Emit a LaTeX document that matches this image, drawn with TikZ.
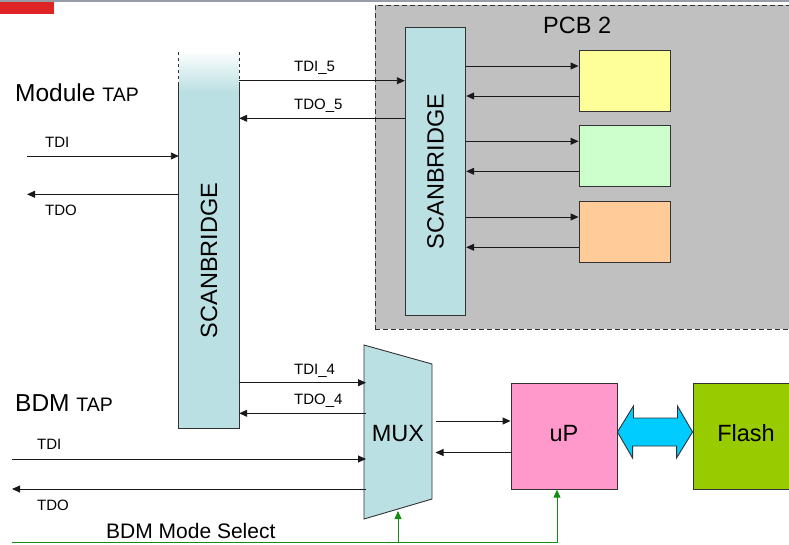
\documentclass[tikz,border=0pt]{standalone}
\usepackage{fontspec}
\setmainfont{Liberation Sans}
\usetikzlibrary{arrows.meta,calc}
\definecolor{sbfill}{RGB}{187,224,227}
\definecolor{pcbgrey}{RGB}{192,192,192}
\definecolor{byellow}{RGB}{255,255,153}
\definecolor{bgreen}{RGB}{204,255,204}
\definecolor{borange}{RGB}{255,204,153}
\definecolor{bpink}{RGB}{255,153,204}
\definecolor{bcyan}{RGB}{0,204,255}
\definecolor{bflash}{RGB}{153,204,0}
\definecolor{linec}{RGB}{25,25,25}
\definecolor{boxline}{RGB}{50,50,50}
\definecolor{selgreen}{RGB}{20,140,20}
\definecolor{topgrey}{RGB}{150,156,168}
\definecolor{redbar}{RGB}{222,36,36}
\begin{document}
\begin{tikzpicture}[x=1pt,y=-1pt,
  line/.style={draw=linec, line width=0.9pt},
  arr/.style={line, -{Triangle[length=8pt,width=7pt]}},
  garr/.style={draw=selgreen, line width=0.9pt, -{Triangle[length=8pt,width=7pt]}},
  box/.style={draw=boxline, line width=0.9pt, inner sep=0pt},
  lbl/.style={font=\fontsize{15}{18}\selectfont, inner sep=0pt, anchor=base west},
  big/.style={font=\fontsize{23.5}{28}\selectfont, inner sep=0pt},
  boxtext/.style={font=\fontsize{23.5}{28}\selectfont, text height=16.8pt, text depth=5.8pt},
]
\useasboundingbox (0,0) rectangle (789,544);
\clip (0,0) rectangle (789,544);
% top decoration
\fill[topgrey] (0,0) rectangle (789,2);
\fill[redbar] (0,2) rectangle (54,14);

% PCB 2 area
\node[draw=boxline, line width=0.9pt, dash pattern=on 5pt off 3pt, fill=pcbgrey,
      minimum width=430, minimum height=324, anchor=north west, inner sep=0pt] (pcb) at (375,5) {};
\node[big, anchor=base west] (pcbl) at (543,33.3) {PCB 2};

% left SCANBRIDGE
\shade[top color=white, bottom color=sbfill] (179,50) rectangle (239,92);
\fill[sbfill] (179,91) rectangle (239,428);
\node[minimum width=60, minimum height=343, inner sep=0pt] (sbL) at (209,256.5) {};
\draw[box] (sbL.north west) -- (sbL.south west) -- (sbL.south east) -- (sbL.north east);
\draw[box, dashed] (sbL.north west) -- ++(0,-35);
\draw[box, dashed] (sbL.north east) -- ++(0,-35);
\node[big, rotate=90] (sbLt) at (209,260.5) {SCANBRIDGE};

% right SCANBRIDGE
\node[box, fill=sbfill, minimum width=60.5, minimum height=287.5] (sbR) at (435.5,171.5) {};
\node[big, rotate=90] (sbRt) at (435.5,171.5) {SCANBRIDGE};

% PCB boxes
\node[box, fill=byellow, minimum width=91, minimum height=60.5] (b1) at (624.5,81) {};
\node[box, fill=bgreen, minimum width=91, minimum height=60.5] (b2) at (624.5,156) {};
\node[box, fill=borange, minimum width=91, minimum height=60.5] (b3) at (624.5,232) {};

\draw[arr] (sbR.east |- 0,66) -- (b1.west |- 0,66);
\draw[arr] (b1.west |- 0,96) -- (sbR.east |- 0,96);
\draw[arr] (sbR.east |- 0,141.3) -- (b2.west |- 0,141.3);
\draw[arr] (b2.west |- 0,171.3) -- (sbR.east |- 0,171.3);
\draw[arr] (sbR.east |- 0,217) -- (b3.west |- 0,217);
\draw[arr] (b3.west |- 0,247.3) -- (sbR.east |- 0,247.3);

% links between scanbridges
\draw[arr] (sbL.east |- 0,80.7) -- (sbR.west |- 0,80.7);
\draw[arr] (sbR.west |- 0,118.3) -- (sbL.east |- 0,118.3);
\node[lbl] (tdi5) at (294,71.5) {TDI\_5};
\node[lbl] (tdo5) at (294,109.7) {TDO\_5};

% Module TAP
\node[inner sep=0pt, anchor=base west] (modtap) at (15,101.7)
  {\fontsize{24.5}{28}\selectfont Module \fontsize{19.5}{22}\selectfont TAP};
\coordinate (modL) at (27,175);
\draw[arr] (modL |- 0,156) -- (sbL.west |- 0,156);
\draw[arr] (sbL.west |- 0,194.3) -- (modL |- 0,194.3);
\node[lbl] (tdiM) at (45,147) {TDI};
\node[lbl] (tdoM) at (45,215) {TDO};

% MUX
\draw[box, fill=sbfill] (364,345) -- (432,364) -- (432,499) -- (364,519) -- cycle;
\node[big, anchor=base] (mux) at (398,441.7) {MUX};
\coordinate (muxW) at (366,432);
\coordinate (muxOut) at (435.5,432);
\coordinate (muxB) at (398,511);

\draw[arr] (sbL.east |- 0,382.7) -- (muxW |- 0,382.7);
\draw[arr] (muxW |- 0,413.3) -- (sbL.east |- 0,413.3);
\node[lbl] (tdi4) at (294,374) {TDI\_4};
\node[lbl] (tdo4) at (294,404) {TDO\_4};

% BDM TAP
\node[inner sep=0pt, anchor=base west] (bdmtap) at (15,411.7)
  {\fontsize{24.5}{28}\selectfont BDM \fontsize{19.5}{22}\selectfont TAP};
\coordinate (bdmL) at (12,474);
\draw[arr] (bdmL |- 0,459) -- (muxW |- 0,459);
\draw[arr] (muxW |- 0,489) -- (bdmL |- 0,489);
\node[lbl] (tdiB) at (37,449) {TDI};
\node[lbl] (tdoB) at (37,510.5) {TDO};

% uP and Flash
\node[box, fill=bpink, minimum width=106, minimum height=106, boxtext] (uP) at (564,436.2) {uP};
\node[box, fill=bflash, minimum width=106, minimum height=106, boxtext] (flash) at (746,436.2) {Flash};
\draw[arr] (muxOut |- 0,421) -- (uP.west |- 0,421);
\draw[arr] (uP.west |- 0,452.5) -- (muxOut |- 0,452.5);
\draw[box, fill=bcyan] (uP.east |- 0,432) -- ++(16,-26) -- ++(0,12) -- ++(44,0) -- ++(0,-12)
  -- (flash.west |- 0,432) -- ++(-16,26) -- ++(0,-12) -- ++(-44,0) -- ++(0,12) -- cycle;

% BDM Mode Select
\coordinate (gs) at (12,542);
\draw[garr] (gs) -| ($(uP.south)+(-7,0)$);
\draw[garr] (muxB |- gs) -- (muxB);
\node[inner sep=0pt, anchor=base west, font=\fontsize{21}{25}\selectfont] (bdmsel) at (106,538.3) {BDM Mode Select};
\end{tikzpicture}
\end{document}
